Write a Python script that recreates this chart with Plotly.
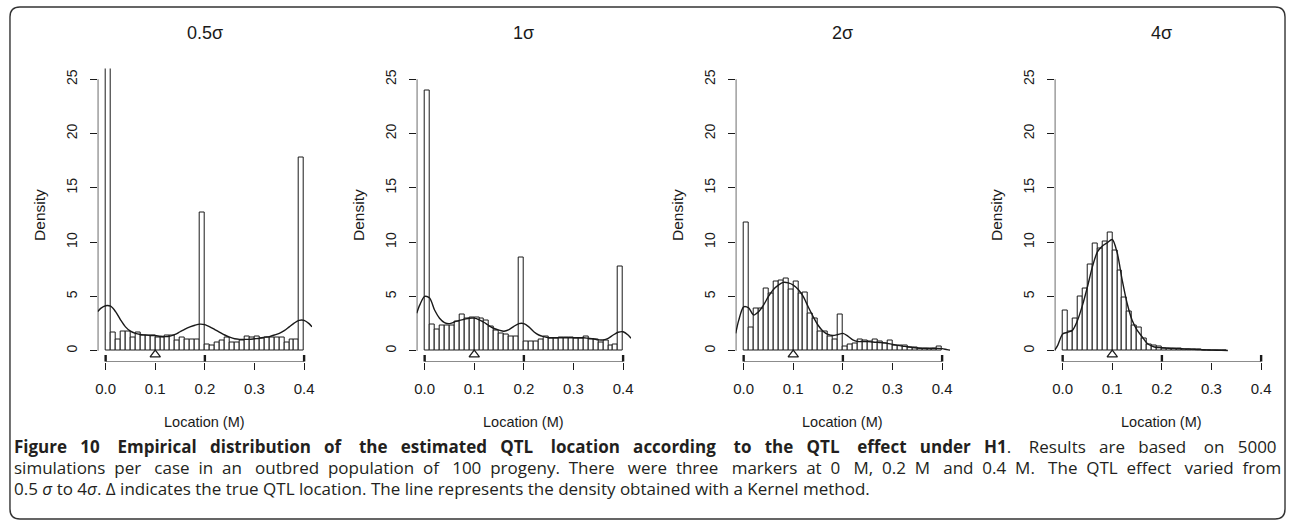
import plotly.graph_objects as go

W, H = 1290, 526

# ---------------- data ----------------
panel_titles = ["0.5σ", "1σ", "2σ", "4σ"]
bin_width = 0.01
bin_left_40 = [i / 100 for i in range(40)]
bin_left_33 = [i / 100 for i in range(33)]

hist_05 = [26.4, 1.7, 1.0, 1.75, 1.8, 1.2, 1.7, 1.45, 1.45, 1.4,
           1.2, 1.2, 1.45, 1.4, 0.9, 1.2, 1.0, 1.0, 1.05, 12.7,
           0.6, 0.5, 0.8, 0.9, 1.2, 0.8, 0.75, 0.9, 1.35, 1.2,
           1.3, 1.15, 1.2, 1.2, 1.25, 1.25, 0.8, 1.0, 1.05, 17.8]
hist_1 = [24.0, 2.45, 1.95, 2.35, 2.35, 2.35, 2.65, 3.3, 3.0, 3.1,
          3.05, 3.0, 2.75, 2.2, 1.9, 1.6, 1.5, 1.35, 1.3, 8.6,
          0.85, 0.85, 0.85, 1.0, 1.3, 1.15, 1.15, 1.25, 1.25, 1.2,
          1.15, 1.15, 1.3, 1.0, 1.0, 0.75, 0.9, 0.5, 0.6, 7.8]
hist_2 = [11.8, 2.1, 3.9, 3.9, 5.75, 5.3, 6.4, 6.5, 6.65, 5.65,
          6.4, 5.3, 5.35, 3.45, 3.0, 1.75, 1.8, 1.35, 1.0, 3.3,
          0.4, 0.6, 0.7, 1.05, 0.95, 0.85, 1.0, 0.85, 0.7, 0.9,
          0.5, 0.45, 0.45, 0.3, 0.3, 0.2, 0.2, 0.2, 0.25, 0.35]
hist_4 = [3.7, 1.8, 2.95, 5.0, 5.7, 7.9, 9.9, 9.45, 10.1, 10.85,
          9.25, 7.4, 4.9, 3.6, 2.3, 2.1, 1.1, 0.6, 0.45, 0.35,
          0.25, 0.25, 0.2, 0.2, 0.15, 0.15, 0.1, 0.1, 0.05, 0.05,
          0.05, 0.03, 0.02]

kde_x_full = [-0.016, -0.01, 0.0, 0.01, 0.02, 0.03, 0.04, 0.05, 0.06, 0.07,
              0.08, 0.09, 0.10, 0.11, 0.12, 0.13, 0.14, 0.15, 0.16, 0.17,
              0.18, 0.19, 0.20, 0.21, 0.22, 0.23, 0.24, 0.25, 0.26, 0.27,
              0.28, 0.29, 0.30, 0.31, 0.32, 0.33, 0.34, 0.35, 0.36, 0.37,
              0.38, 0.39, 0.40, 0.41, 0.416]
kde_05 = [3.6, 3.9, 4.15, 4.1, 3.6, 2.85, 2.2, 1.8, 1.6, 1.5,
          1.45, 1.4, 1.4, 1.33, 1.3, 1.35, 1.5, 1.75, 2.0, 2.2,
          2.35, 2.45, 2.4, 2.2, 1.95, 1.7, 1.45, 1.25, 1.1, 1.05,
          1.05, 1.05, 1.1, 1.15, 1.25, 1.3, 1.45, 1.6, 1.85, 2.2,
          2.55, 2.8, 2.8, 2.5, 2.2]
kde_1 = [3.45, 4.2, 5.0, 4.85, 3.75, 3.0, 2.6, 2.5, 2.65, 2.8,
         2.9, 3.0, 3.0, 2.85, 2.6, 2.3, 2.05, 1.9, 1.8, 1.95,
         2.25, 2.5, 2.5, 2.2, 1.75, 1.45, 1.3, 1.2, 1.2, 1.2,
         1.2, 1.2, 1.2, 1.2, 1.2, 1.15, 1.1, 1.0, 1.0, 1.15,
         1.45, 1.7, 1.75, 1.45, 1.15]
kde_2 = [1.6, 2.8, 4.05, 3.95, 3.3, 3.6, 4.2, 5.0, 5.65, 6.05,
         6.3, 6.25, 6.05, 5.65, 5.0, 4.05, 3.15, 2.35, 1.8, 1.5,
         1.4, 1.5, 1.6, 1.35, 1.0, 0.85, 0.85, 0.85, 0.8, 0.77,
         0.75, 0.68, 0.58, 0.5, 0.43, 0.37, 0.3, 0.25, 0.22, 0.2,
         0.2, 0.22, 0.2, 0.1, 0.06]
kde_x_4 = [-0.016, -0.01, 0.0, 0.01, 0.02, 0.03, 0.04, 0.05, 0.06, 0.07,
           0.08, 0.09, 0.10, 0.11, 0.12, 0.13, 0.14, 0.15, 0.16, 0.17,
           0.18, 0.19, 0.20, 0.21, 0.22, 0.23, 0.24, 0.25, 0.26, 0.27,
           0.28, 0.29, 0.30, 0.31, 0.32, 0.333]
kde_4 = [0.05, 0.5, 1.55, 1.7, 1.9, 2.8, 4.2, 5.9, 7.75, 9.1,
         9.65, 9.95, 10.25, 9.0, 6.5, 4.35, 2.8, 1.9, 1.3, 0.7,
         0.43, 0.3, 0.28, 0.24, 0.2, 0.19, 0.18, 0.16, 0.15, 0.12,
         0.1, 0.08, 0.06, 0.04, 0.03, 0.02]

marker_positions = [0.0, 0.2, 0.4]
true_qtl = 0.1
x_ticks = [0.0, 0.1, 0.2, 0.3, 0.4]
x_tick_labels = ["0.0", "0.1", "0.2", "0.3", "0.4"]
y_ticks = [0, 5, 10, 15, 20, 25]
y_tick_labels = ["0", "5", "10", "15", "20", "25"]

panels = [
    (bin_left_40, hist_05, kde_x_full, kde_05),
    (bin_left_40, hist_1, kde_x_full, kde_1),
    (bin_left_40, hist_2, kde_x_full, kde_2),
    (bin_left_33, hist_4, kde_x_4, kde_4),
]

# ---------------- layout helpers ----------------
def fx(px):
    return px / W


def fy(py):
    return 1 - py / H


X_RANGE = [-0.016, 0.416]
Y_RANGE = [-1, 26]
AX_FONT = "Liberation Sans, Arial, sans-serif"
INK = "#1a1a1a"

fig = go.Figure()
annotations = []
layout_axes = {}

for i, (bl, hv, kx, kv) in enumerate(panels):
    n = i + 1
    xa = "x" if n == 1 else f"x{n}"
    ya = "y" if n == 1 else f"y{n}"
    left = 96 + 320 * i
    right = left + 215
    top, bottom = 68.5, 361.6

    fig.add_trace(go.Bar(
        x=[b + bin_width / 2 for b in bl], y=hv, width=bin_width,
        marker=dict(color="white", line=dict(color=INK, width=1)),
        xaxis=xa, yaxis=ya, showlegend=False, hoverinfo="skip"))
    fig.add_trace(go.Scatter(
        x=kx, y=kv, mode="lines", line=dict(color=INK, width=1.4, shape="spline", smoothing=0.8),
        xaxis=xa, yaxis=ya, showlegend=False, hoverinfo="skip"))
    fig.add_trace(go.Scatter(
        x=[x_ticks[0], x_ticks[-1]], y=[Y_RANGE[0], Y_RANGE[0]], mode="lines",
        line=dict(color=INK, width=1.3), cliponaxis=False,
        xaxis=xa, yaxis=ya, showlegend=False, hoverinfo="skip"))
    fig.add_trace(go.Scatter(
        x=[X_RANGE[0], X_RANGE[0]], y=[y_ticks[0], y_ticks[-1]], mode="lines",
        line=dict(color=INK, width=1.3), cliponaxis=False,
        xaxis=xa, yaxis=ya, showlegend=False, hoverinfo="skip"))
    mx, my = [], []
    for m in marker_positions:
        mx += [m, m, None]
        my += [-0.4, -1.5, None]
    fig.add_trace(go.Scatter(
        x=mx, y=my, mode="lines", line=dict(color=INK, width=2.4), cliponaxis=False,
        xaxis=xa, yaxis=ya, showlegend=False, hoverinfo="skip"))
    fig.add_trace(go.Scatter(
        x=[true_qtl], y=[-0.35], mode="markers", cliponaxis=False,
        marker=dict(symbol="triangle-up-open", size=9, color=INK, line=dict(width=1.2)),
        xaxis=xa, yaxis=ya, showlegend=False, hoverinfo="skip"))

    kx_name = "xaxis" if n == 1 else f"xaxis{n}"
    ky_name = "yaxis" if n == 1 else f"yaxis{n}"
    layout_axes[kx_name] = dict(
        domain=[fx(left), fx(right)], range=X_RANGE, anchor=ya,
        showgrid=False, zeroline=False, showline=False,
        tickmode="array", tickvals=x_ticks, ticktext=x_tick_labels,
        ticks="outside", ticklen=7, tickwidth=1.2, tickcolor=INK,
        tickfont=dict(family=AX_FONT, size=15, color=INK), ticklabelstandoff=6,
        fixedrange=True)
    layout_axes[ky_name] = dict(
        domain=[fy(bottom), fy(top)], range=Y_RANGE, anchor=xa,
        showgrid=False, zeroline=False, showline=False,
        tickmode="array", tickvals=y_ticks, ticktext=y_tick_labels,
        ticks="outside", ticklen=7, tickwidth=1.2, tickcolor=INK, tickangle=-90,
        tickfont=dict(family=AX_FONT, size=14, color=INK), ticklabelstandoff=7,
        fixedrange=True)

    cx = (left + right) / 2
    annotations.append(dict(text=panel_titles[i], x=fx(cx), y=fy(33), xref="paper", yref="paper",
                            showarrow=False, xanchor="center", yanchor="middle",
                            font=dict(family=AX_FONT, size=18, color=INK)))
    annotations.append(dict(text="Density", x=fx(left - 59), y=fy((top + bottom) / 2), xref="paper",
                            yref="paper", showarrow=False, xanchor="center", yanchor="middle",
                            textangle=-90, font=dict(family=AX_FONT, size=15.5, color=INK)))
    annotations.append(dict(text="Location (M)", x=fx(cx), y=fy(422), xref="paper", yref="paper",
                            showarrow=False, xanchor="center", yanchor="middle",
                            font=dict(family=AX_FONT, size=14.5, color=INK)))

# ---------------- caption (justified with non-breaking spaces) ----------------
CAP_FONT = "Open Sans, sans-serif"
CAP_SIZE = 17
NB = "\u00a0"


def justify(segments, extra):
    """segments: list of (text, bold). A segment that does not start with a space
    is glued to the previous word. `extra` additional nbsp are spread over the gaps."""
    words = []
    for txt, bold in segments:
        glue_first = bool(words) and not txt.startswith(" ")
        for j, w in enumerate(txt.split()):
            html = f"<b>{w}</b>" if bold else w
            if j == 0 and glue_first:
                words[-1] += html
            else:
                words.append(html)
    gaps = len(words) - 1
    out, acc = "", 0
    for k, w in enumerate(words):
        out += w
        if k < gaps:
            target = round(extra * (k + 1) / gaps)
            out += NB * (1 + target - acc)
            acc = target
    return out


cap_line1 = [("Figure 10 Empirical distribution of the estimated QTL location according to the QTL effect under H1", True),
             (". Results are based on 5000", False)]
cap_line2 = [("simulations per case in an outbred population of 100 progeny. There were three markers at 0 M, "
              "0.2 M and 0.4 M. The QTL effect varied from", False)]
line1 = justify(cap_line1, 47)
line2 = justify(cap_line2, 35)
line3 = "0.5 <i>σ</i> to 4<i>σ</i>. Δ indicates the true QTL location. The line represents the density obtained with a Kernel method."

for t, yy in zip([line1, line2, line3], [446, 467, 488]):
    annotations.append(dict(text=t, x=fx(10), y=fy(yy), xref="paper", yref="paper", showarrow=False,
                            xanchor="left", yanchor="middle", align="left",
                            font=dict(family=CAP_FONT, size=CAP_SIZE, color="#231f20")))

# rounded frame
x0, y0, x1, y1, r = 8, 7, 1287, 519, 10
path = (f"M {fx(x0 + r)} {fy(y0)} L {fx(x1 - r)} {fy(y0)} Q {fx(x1)} {fy(y0)} {fx(x1)} {fy(y0 + r)} "
        f"L {fx(x1)} {fy(y1 - r)} Q {fx(x1)} {fy(y1)} {fx(x1 - r)} {fy(y1)} "
        f"L {fx(x0 + r)} {fy(y1)} Q {fx(x0)} {fy(y1)} {fx(x0)} {fy(y1 - r)} "
        f"L {fx(x0)} {fy(y0 + r)} Q {fx(x0)} {fy(y0)} {fx(x0 + r)} {fy(y0)} Z")

fig.update_layout(
    width=W, height=H, margin=dict(l=0, r=0, t=0, b=0),
    paper_bgcolor="white", plot_bgcolor="rgba(0,0,0,0)",
    barmode="overlay", bargap=0,
    annotations=annotations,
    shapes=[dict(type="path", path=path, xref="paper", yref="paper",
                 line=dict(color="#333333", width=1.4), layer="below")],
    **layout_axes,
)

fig.write_html("out.html", config={"displayModeBar": False})
